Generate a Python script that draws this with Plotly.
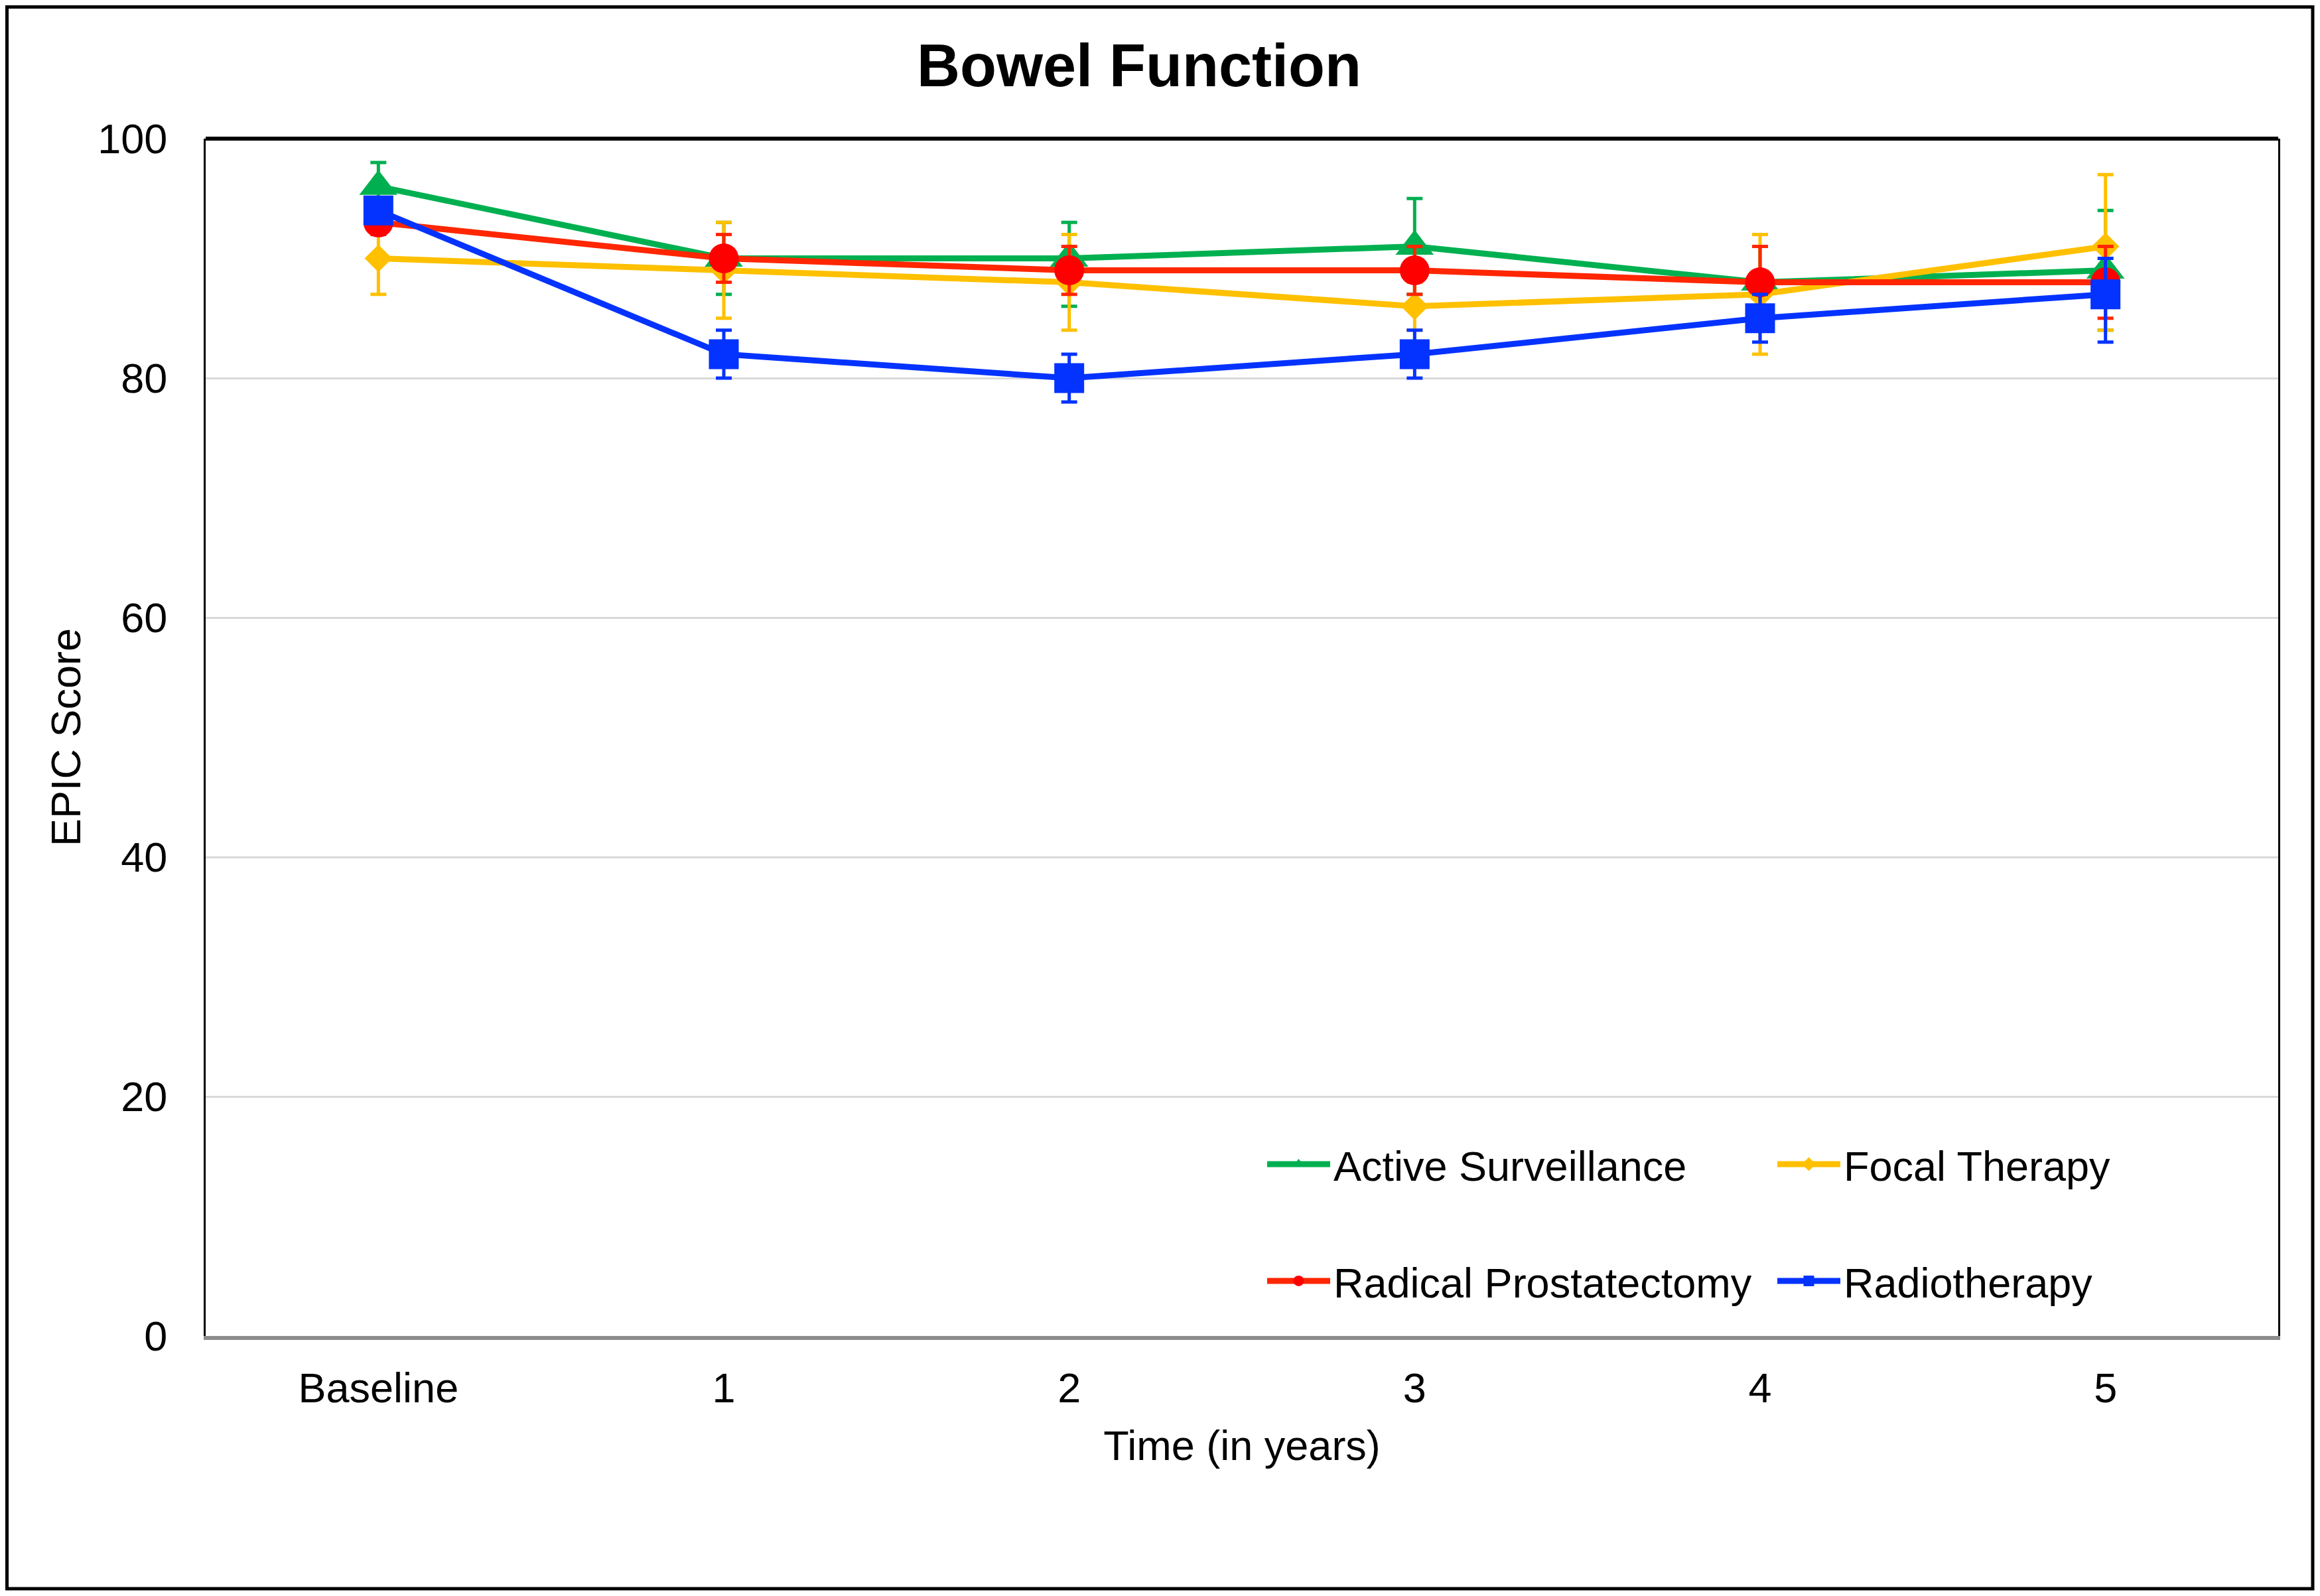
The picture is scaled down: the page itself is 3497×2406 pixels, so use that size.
import plotly.graph_objects as go

# ---- data ----
time_labels = ["Baseline", "1", "2", "3", "4", "5"]

series_names = ["Active Surveillance", "Focal Therapy", "Radical Prostatectomy", "Radiotherapy"]

as_vals = [96, 90, 90, 91, 88, 89]
as_err_plus = [2, 3, 3, 4, 3, 5]
as_err_minus = [2, 3, 4, 4, 3, 5]

ft_vals = [90, 89, 88, 86, 87, 91]
ft_err_plus = [3, 4, 4, 2, 5, 6]
ft_err_minus = [3, 4, 4, 2, 5, 7]

rp_vals = [93, 90, 89, 89, 88, 88]
rp_err_plus = [1, 2, 2, 2, 3, 3]
rp_err_minus = [1, 2, 2, 2, 3, 3]

rt_vals = [94, 82, 80, 82, 85, 87]
rt_err_plus = [1, 2, 2, 2, 2, 3]
rt_err_minus = [1, 2, 2, 2, 2, 4]

y_ticks = [0, 20, 40, 60, 80, 100]

# ---- styling ----
OFF = 8  # page body margin
W, H = 3497 - 2 * OFF, 2406 - 2 * OFF
ML, MT = 310 - OFF, 209 - OFF
PR, PB = 3434 - OFF, 2014 - OFF
MR, MB = W - PR, H - PB
PW = W - ML - MR
PH = H - MT - MB
FONT = "Liberation Sans, Arial, sans-serif"

styles = [
    dict(vals=as_vals, ep=as_err_plus, em=as_err_minus, line="#00B050", mark="#00B050",
         symbol="triangle-up", size=50, legend="legend"),
    dict(vals=ft_vals, ep=ft_err_plus, em=ft_err_minus, line="#FFC000", mark="#FFC000",
         symbol="diamond", size=32, legend="legend"),
    dict(vals=rp_vals, ep=rp_err_plus, em=rp_err_minus, line="#FF2600", mark="#FF0000",
         symbol="circle", size=45, legend="legend2"),
    dict(vals=rt_vals, ep=rt_err_plus, em=rt_err_minus, line="#0433FF", mark="#0433FF",
         symbol="square", size=45, legend="legend2"),
]

fig = go.Figure()
for name, s in zip(series_names, styles):
    fig.add_trace(go.Scatter(
        x=time_labels, y=s["vals"], name=name, mode="lines+markers",
        line=dict(color=s["line"], width=9),
        marker=dict(color=s["mark"], symbol=s["symbol"], size=s["size"], line=dict(width=0)),
        error_y=dict(type="data", symmetric=False, array=s["ep"], arrayminus=s["em"],
                     color=s["line"], thickness=5, width=12),
        legend=s["legend"],
    ))

def px_x(px):
    return (px - OFF - ML) / PW

def px_y(py):
    return (PB - (py - OFF)) / PH

shapes = [
    # outer frame of the chart
    dict(type="rect", xref="paper", yref="paper",
         x0=(2.5 - ML) / PW, x1=(3478 - ML) / PW,
         y0=(PB - 2387) / PH, y1=(PB - 2.5) / PH,
         line=dict(color="black", width=5), fillcolor="rgba(0,0,0,0)", layer="above"),
    # top border of plot area
    dict(type="line", xref="paper", yref="paper", x0=0, x1=1, y0=1, y1=1,
         line=dict(color="black", width=6), layer="above"),
]

legend_common = dict(
    orientation="h", xanchor="left", yanchor="middle",
    font=dict(family=FONT, size=63, color="black"),
    bgcolor="rgba(0,0,0,0)", itemwidth=95, entrywidth=659, itemsizing="trace",
)

fig.update_layout(
    width=W, height=H,
    margin=dict(l=ML, r=MR, t=MT, b=MB, autoexpand=False),
    paper_bgcolor="white", plot_bgcolor="white",
    font=dict(family=FONT, size=63, color="black"),
    title=dict(text="Bowel Function", x=(1717 - OFF) / W, xanchor="center", xref="container",
               y=1 - (98 - OFF) / H, yanchor="middle", yref="container",
               font=dict(family=FONT, size=90, color="black", weight="bold")),
    xaxis=dict(type="category", categoryorder="array", categoryarray=time_labels,
               range=[-0.5, 5.5], showgrid=False, zeroline=False,
               showline=True, linecolor="#8C8C8C", linewidth=6, mirror=False,
               ticks="", ticklabelstandoff=18,
               tickfont=dict(family=FONT, size=63, color="black"),
               title=dict(text="Time (in years)", standoff=33,
                          font=dict(family=FONT, size=63, color="black"))),
    yaxis=dict(range=[0, 100], tickvals=y_ticks, showgrid=True, gridcolor="#D9D9D9", gridwidth=3,
               zeroline=False, showline=True, linecolor="black", linewidth=3, mirror=True,
               ticks="", ticklabelstandoff=42,
               tickfont=dict(family=FONT, size=63, color="black"),
               title=dict(text="EPIC Score", standoff=6,
                          font=dict(family=FONT, size=63, color="black"))),
    legend=dict(x=px_x(1905), y=px_y(1755), **legend_common),
    legend2=dict(x=px_x(1905), y=px_y(1931), **legend_common),
    shapes=shapes,
    showlegend=True,
)

fig.write_html("out.html")
